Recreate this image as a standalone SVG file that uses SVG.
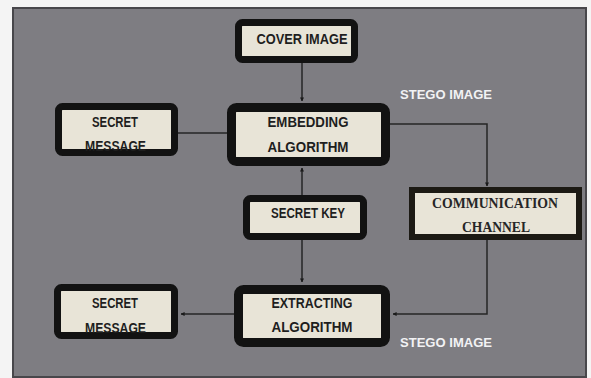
<svg xmlns="http://www.w3.org/2000/svg" width="591" height="378" viewBox="0 0 591 378">
  <style>
    .box { fill: #e8e4d7; stroke: #121212; stroke-width: 7; }
    .thick { stroke-width: 9; }
    .square { fill: #e8e4d7; stroke: #1c1a14; stroke-width: 6; }
    .lbl { font-family: "Liberation Sans", Arial, sans-serif; font-weight: bold; font-size: 14px; fill: #1e1e1e; text-anchor: middle; }
    .serif { font-family: "Liberation Serif", "Times New Roman", serif; font-weight: bold; font-size: 14px; fill: #262626; text-anchor: middle; }
    .note { font-family: "Liberation Sans", Arial, sans-serif; font-weight: bold; font-size: 13px; fill: #f2f2f4; }
    .wire { fill: none; stroke: #262626; stroke-width: 1.5; }
  </style>
  <defs>
    <marker id="tip" viewBox="0 0 10 10" refX="9" refY="5" markerWidth="4" markerHeight="4" orient="auto" markerUnits="userSpaceOnUse">
      <path d="M0,0 L10,5 L0,10 Z" fill="#1a1a1a"/>
    </marker>
  </defs>

  <!-- backdrop -->
  <rect x="0" y="0" width="591" height="378" fill="#f4f4f4"/>
  <rect x="13" y="8" width="573" height="369" fill="#7e7d82" stroke="#48474b" stroke-width="2"/>

  <!-- connectors -->
  <g id="connectors">
    <line class="wire" x1="302" y1="63" x2="302" y2="101" marker-end="url(#tip)"/>
    <line class="wire" x1="178" y1="133" x2="228" y2="133"/>
    <polyline class="wire" points="390,124 487,124 487,186" marker-end="url(#tip)"/>
    <line class="wire" x1="302" y1="195" x2="302" y2="168" marker-end="url(#tip)"/>
    <line class="wire" x1="302" y1="240" x2="302" y2="282" marker-end="url(#tip)"/>
    <polyline class="wire" points="487,239 487,314 393,314" marker-end="url(#tip)"/>
    <line class="wire" x1="234" y1="314" x2="181" y2="314" marker-end="url(#tip)"/>
  </g>

  <g id="cover-image">
    <rect class="box" x="238.5" y="22.5" width="116" height="37" rx="4"/>
    <text class="lbl" x="302" y="44" textLength="91" lengthAdjust="spacingAndGlyphs">COVER IMAGE</text>
  </g>

  <g id="secret-message-in">
    <rect class="box" x="58.5" y="106.5" width="116" height="46" rx="4"/>
    <text class="lbl" x="115" y="127" textLength="46" lengthAdjust="spacingAndGlyphs">SECRET</text>
    <text class="lbl" x="115.5" y="151" textLength="61" lengthAdjust="spacingAndGlyphs">MESSAGE</text>
  </g>

  <g id="embedding-algorithm">
    <rect class="box thick" x="231.5" y="107.5" width="154" height="54" rx="5"/>
    <text class="lbl" x="308" y="127" textLength="81" lengthAdjust="spacingAndGlyphs">EMBEDDING</text>
    <text class="lbl" x="308" y="152" textLength="81" lengthAdjust="spacingAndGlyphs">ALGORITHM</text>
  </g>

  <g id="communication-channel">
    <rect class="square" x="412" y="190" width="167" height="47"/>
    <text class="serif" x="495" y="208" textLength="126" lengthAdjust="spacingAndGlyphs">COMMUNICATION</text>
    <text class="serif" x="496" y="232" textLength="68" lengthAdjust="spacingAndGlyphs">CHANNEL</text>
  </g>

  <g id="secret-key">
    <rect class="box" x="246.5" y="198.5" width="117" height="38" rx="4"/>
    <text class="lbl" x="308" y="218" textLength="74" lengthAdjust="spacingAndGlyphs">SECRET KEY</text>
  </g>

  <g id="extracting-algorithm">
    <rect class="box thick" x="238.5" y="289.5" width="147" height="53" rx="5"/>
    <text class="lbl" x="312" y="308" textLength="81" lengthAdjust="spacingAndGlyphs">EXTRACTING</text>
    <text class="lbl" x="312" y="332" textLength="81" lengthAdjust="spacingAndGlyphs">ALGORITHM</text>
  </g>

  <g id="secret-message-out">
    <rect class="box" x="57.5" y="287.5" width="117" height="48" rx="4"/>
    <text class="lbl" x="115" y="308" textLength="46" lengthAdjust="spacingAndGlyphs">SECRET</text>
    <text class="lbl" x="115.5" y="333" textLength="61" lengthAdjust="spacingAndGlyphs">MESSAGE</text>
  </g>

  <!-- edge notes -->
  <text class="note" x="400" y="99" textLength="92" lengthAdjust="spacingAndGlyphs">STEGO IMAGE</text>
  <text class="note" x="400" y="347" textLength="92" lengthAdjust="spacingAndGlyphs">STEGO IMAGE</text>
</svg>
